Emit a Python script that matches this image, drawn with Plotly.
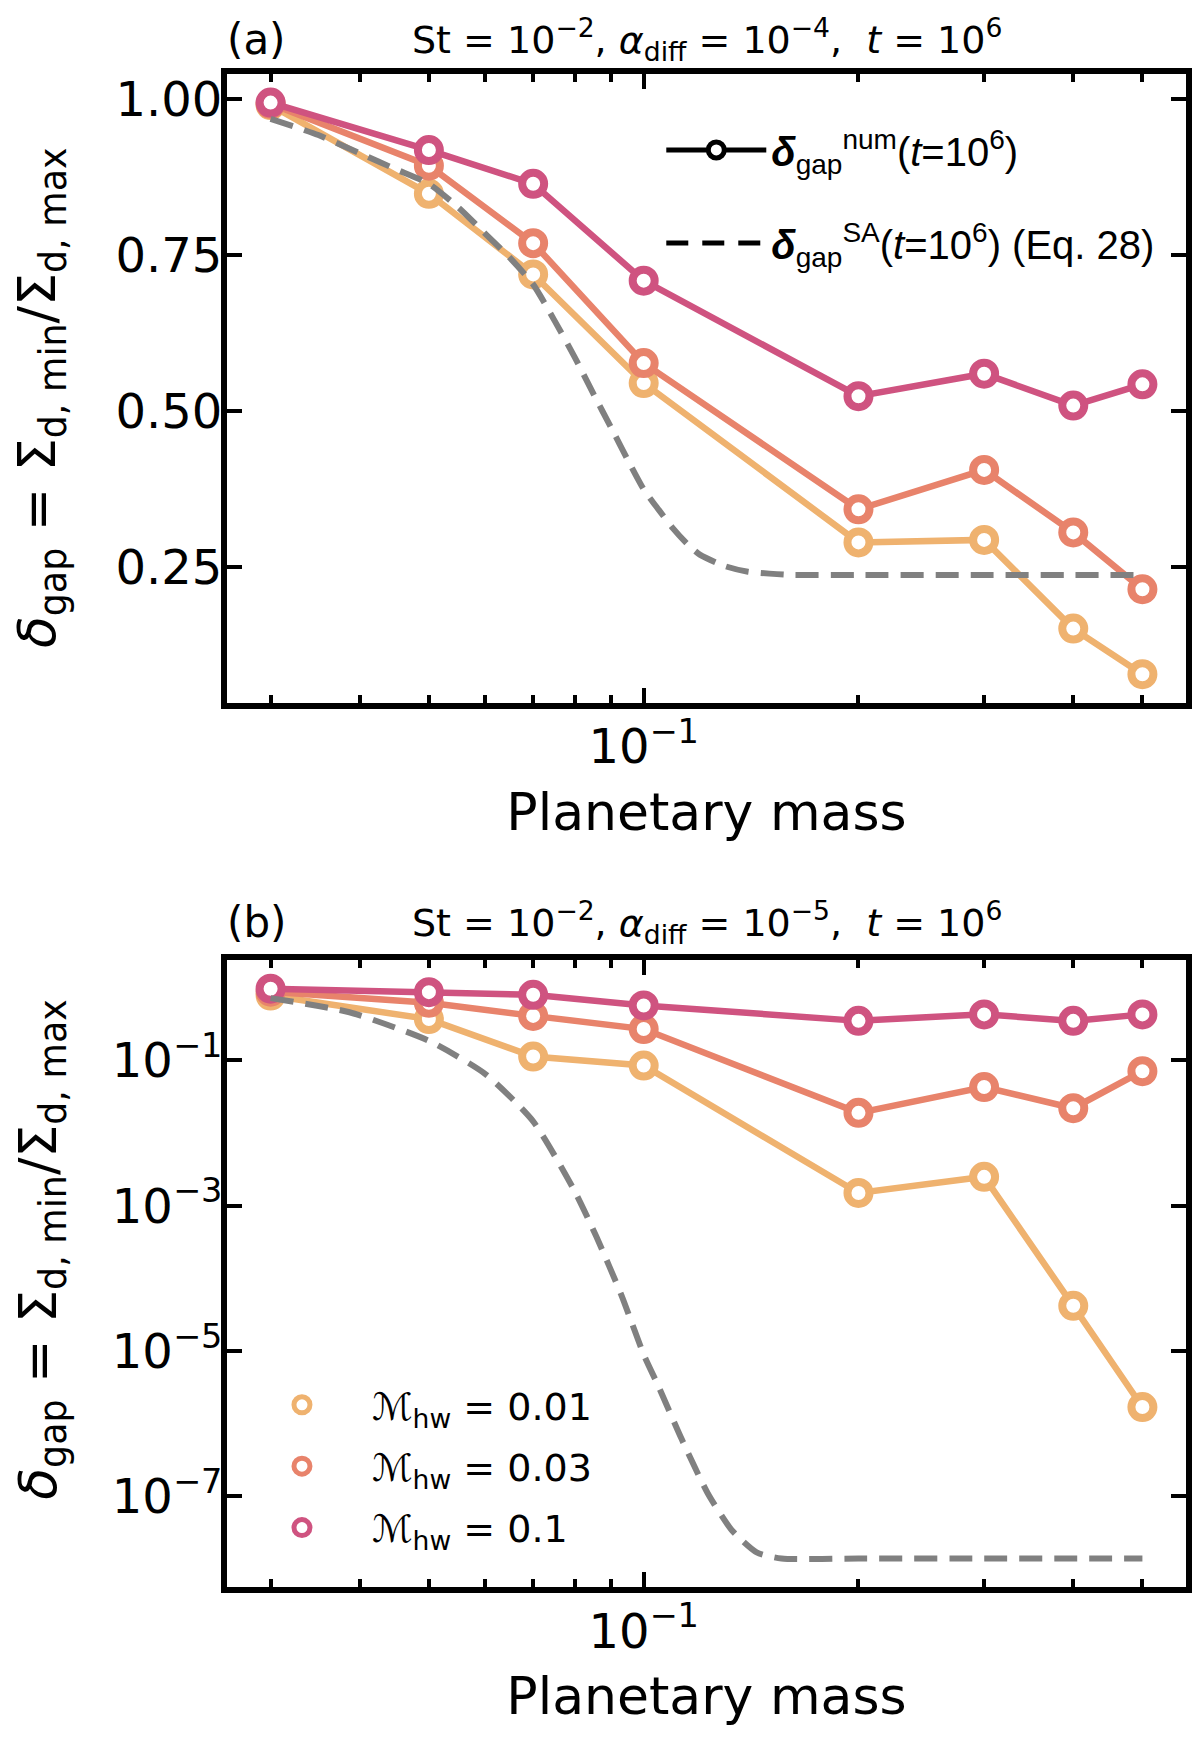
import numpy as np
import plotly.graph_objects as go

# ---------------- data ----------------
mass = [0.03, 0.05, 0.07, 0.1, 0.2, 0.3, 0.4, 0.5]
hw_values = ["0.01", "0.03", "0.1"]
colors = ["#EFB26F", "#E8836B", "#CF5380"]

# panel (a): St=1e-2, alpha_diff=1e-4
gap_a_hw001 = [0.990, 0.848, 0.719, 0.545, 0.290, 0.294, 0.152, 0.079]
gap_a_hw003 = [0.992, 0.893, 0.769, 0.577, 0.343, 0.406, 0.306, 0.215]
gap_a_hw01 = [0.994, 0.918, 0.864, 0.709, 0.524, 0.560, 0.509, 0.543]
sa_a_mass = [0.03, 0.035, 0.04, 0.045, 0.05, 0.055, 0.06, 0.065, 0.07, 0.075,
             0.08, 0.085, 0.09, 0.095, 0.1, 0.105, 0.11, 0.115, 0.12, 0.13,
             0.14, 0.15, 0.16, 0.2, 0.3, 0.4, 0.5]
sa_a = [0.968, 0.942, 0.913, 0.887, 0.864, 0.826, 0.784, 0.745, 0.703, 0.645,
        0.587, 0.528, 0.474, 0.422, 0.375, 0.342, 0.312, 0.288, 0.270, 0.252,
        0.243, 0.240, 0.238, 0.238, 0.238, 0.238, 0.238]

# panel (b): St=1e-2, alpha_diff=1e-5
gap_b_hw001 = [0.78, 0.37, 0.113, 0.085, 1.5e-3, 2.5e-3, 4.2e-5, 1.7e-6]
gap_b_hw003 = [0.88, 0.62, 0.41, 0.27, 0.019, 0.043, 0.022, 0.071]
gap_b_hw01 = [0.97, 0.87, 0.80, 0.57, 0.35, 0.43, 0.35, 0.43]
sa_b_mass = [0.03, 0.0387, 0.05, 0.06, 0.07, 0.08, 0.0858, 0.093, 0.1, 0.105,
             0.113, 0.123, 0.133, 0.144, 0.156, 0.2, 0.3, 0.4, 0.5]
sa_b = [0.72, 0.46, 0.186, 0.065, 0.0145, 1.6e-3, 3.8e-4, 6.0e-5, 9.0e-6, 3.2e-6,
        6.2e-7, 1.1e-7, 3.4e-8, 1.7e-8, 1.4e-8, 1.4e-8, 1.4e-8, 1.4e-8, 1.4e-8]

x_major = [0.1]
x_major_text = ["10<sup>\u22121</sup>"]
x_minor = [0.03, 0.04, 0.05, 0.06, 0.07, 0.08, 0.09, 0.2, 0.3, 0.4, 0.5]
ya_ticks = [0.25, 0.50, 0.75, 1.00]
ya_text = ["0.25", "0.50", "0.75", "1.00"]
yb_ticks = [1e-7, 1e-5, 1e-3, 1e-1]
yb_text = ["10<sup>\u22127</sup>", "10<sup>\u22125</sup>", "10<sup>\u22123</sup>", "10<sup>\u22121</sup>"]

# ---------------- layout geometry (pixels) ----------------
W, H = 1200, 1737
ML, MR = 227, 8
TOP_A, BOT_A = 74.0, 703.0
TOP_B, BOT_B = 960.5, 1587.5
MT, MB = TOP_A, H - BOT_B
plot_h = H - MT - MB
plot_w = W - ML - MR

def px_x(px):
    return (px - ML) / plot_w

def px_y(py):
    return (BOT_B - py) / plot_h

fig = go.Figure()

LW = 6.5
MS = 22
MLW = 8
GRAY = "#808080"

def add_panel(xa, ya, series, sa_x, sa_y):
    for vals, col in zip(series, colors):
        fig.add_trace(go.Scatter(
            x=mass, y=vals, mode="lines+markers", xaxis=xa, yaxis=ya,
            line=dict(color=col, width=LW),
            marker=dict(symbol="circle", size=MS, color="white",
                        line=dict(color=col, width=MLW)),
            showlegend=False, hoverinfo="skip"))
    fig.add_trace(go.Scatter(
        x=sa_x, y=sa_y, mode="lines", xaxis=xa, yaxis=ya,
        line=dict(color=GRAY, width=6, dash="23px,12px", shape="spline", smoothing=0.6),
        showlegend=False, hoverinfo="skip"))

add_panel("x", "y", [gap_a_hw001, gap_a_hw003, gap_a_hw01], sa_a_mass, sa_a)
add_panel("x2", "y2", [gap_b_hw001, gap_b_hw003, gap_b_hw01], sa_b_mass, sa_b)

# legend (a)
lg_font_a = dict(family="Liberation Sans", size=40, color="black")
fig.add_trace(go.Scatter(
    x=[None], y=[None], mode="lines+markers", xaxis="x", yaxis="y",
    line=dict(color="black", width=5),
    marker=dict(symbol="circle", size=22, color="white", line=dict(color="black", width=6)),
    name="<b><i>\u03b4</i></b><sub>gap</sub><sup>num</sup>(<i>t</i>=10<sup>6</sup>)",
    legend="legend", legendgroup="n1"))
fig.add_trace(go.Scatter(
    x=[None], y=[None], mode="lines", xaxis="x", yaxis="y",
    line=dict(color="black", width=5, dash="22px,14px"),
    name="<b><i>\u03b4</i></b><sub>gap</sub><sup>SA</sup>(<i>t</i>=10<sup>6</sup>) (Eq. 28)",
    legend="legend", legendgroup="n2"))

# legend (b)
for hw, col in zip(hw_values, colors):
    fig.add_trace(go.Scatter(
        x=[None], y=[None], mode="markers", xaxis="x2", yaxis="y2",
        marker=dict(symbol="circle", size=22, color="white", line=dict(color=col, width=8)),
        name="\u2133<sub>hw</sub> = " + hw,
        legend="legend2", legendgroup="hw" + hw))

dom_a = [px_y(BOT_A), 1.0]
dom_b = [0.0, px_y(TOP_B)]

def log_range(vals):
    lo, hi = np.log10(min(vals)), np.log10(max(vals))
    pad = 0.05 * (hi - lo)
    return [lo - pad, hi + pad]

def lin_range(vals):
    lo, hi = min(vals), max(vals)
    pad = 0.05 * (hi - lo)
    return [lo - pad, hi + pad]

xr = log_range(mass)
yr_a = lin_range(gap_a_hw001 + gap_a_hw003 + gap_a_hw01 + sa_a)
yr_b = log_range(gap_b_hw001 + gap_b_hw003 + gap_b_hw01 + sa_b)

tick_font = dict(family="DejaVu Sans", size=48, color="black")
title_font = dict(family="DejaVu Sans", size=52, color="black")

common_axis = dict(showline=True, linewidth=6, linecolor="black", mirror="ticks",
                   ticks="inside", ticklen=15, tickwidth=4, tickcolor="black",
                   showgrid=False, zeroline=False, tickfont=tick_font)

minor_x = dict(tickmode="array", tickvals=x_minor, ticks="inside", ticklen=8,
               tickwidth=3.5, tickcolor="black", showgrid=False)

ytitle = "<i>\u03b4</i><sub>gap</sub> = \u03a3<sub>d, min</sub>/\u03a3<sub>d, max</sub>"

fig.update_layout(
    width=W, height=H,
    margin=dict(l=ML, r=MR, t=MT, b=MB, pad=0),
    paper_bgcolor="white", plot_bgcolor="white",
    font=dict(family="DejaVu Sans", color="black"),
    xaxis=dict(type="log", range=xr, domain=[0, 1], anchor="y",
               tickmode="array", tickvals=x_major, ticktext=x_major_text,
               minor=minor_x, ticklabelstandoff=-3,
               title=dict(text="Planetary mass", font=title_font, standoff=22),
               **common_axis),
    yaxis=dict(range=yr_a, domain=dom_a, anchor="x",
               tickmode="array", tickvals=ya_ticks, ticktext=ya_text,
               ticklabelstandoff=-11, **common_axis),
    xaxis2=dict(type="log", range=xr, domain=[0, 1], anchor="y2",
                tickmode="array", tickvals=x_major, ticktext=x_major_text,
                minor=minor_x, ticklabelstandoff=-3,
                title=dict(text="Planetary mass", font=title_font, standoff=22),
                **common_axis),
    yaxis2=dict(type="log", range=yr_b, domain=dom_b, anchor="x2",
                tickmode="array", tickvals=yb_ticks, ticktext=yb_text,
                ticklabelstandoff=-11, **common_axis),
    legend=dict(x=px_x(664), y=px_y(117.5), xanchor="left", yanchor="top",
                font=lg_font_a, bgcolor="rgba(0,0,0,0)", itemwidth=100,
                tracegroupgap=38, itemsizing="trace"),
    legend2=dict(x=px_x(232), y=px_y(1374), xanchor="left", yanchor="top",
                 font=dict(family="DejaVu Sans", size=38, color="black"),
                 bgcolor="rgba(0,0,0,0)", itemwidth=130, tracegroupgap=9,
                 itemsizing="trace"),
    showlegend=True,
)

# y-axis titles
for yc in (398, 1250):
    fig.add_annotation(text=ytitle, x=px_x(40), y=px_y(yc), xref="paper", yref="paper",
                       textangle=-90, showarrow=False, font=title_font,
                       xanchor="center", yanchor="middle")

sub_font = dict(family="DejaVu Sans", size=38, color="black")
lab_font = dict(family="DejaVu Sans", size=42, color="black")
sub_a = "St = 10<sup>\u22122</sup>, <i>\u03b1</i><sub>diff</sub> = 10<sup>\u22124</sup>,\u00a0 <i>t</i> = 10<sup>6</sup>"
sub_b = "St = 10<sup>\u22122</sup>, <i>\u03b1</i><sub>diff</sub> = 10<sup>\u22125</sup>,\u00a0 <i>t</i> = 10<sup>6</sup>"
for txt, lab, yc in ((sub_a, "(a)", 39), (sub_b, "(b)", 923)):
    fig.add_annotation(text=txt, x=px_x((ML + W - MR) / 2), y=px_y(yc), xref="paper", yref="paper",
                       showarrow=False, font=sub_font, xanchor="center", yanchor="middle")
    fig.add_annotation(text=lab, x=px_x(257), y=px_y(yc), xref="paper", yref="paper",
                       showarrow=False, font=lab_font, xanchor="center", yanchor="middle")

fig.write_html("out.html", config={"displayModeBar": False},
               post_script="document.body.style.margin='0px';document.body.style.overflow='hidden';")
